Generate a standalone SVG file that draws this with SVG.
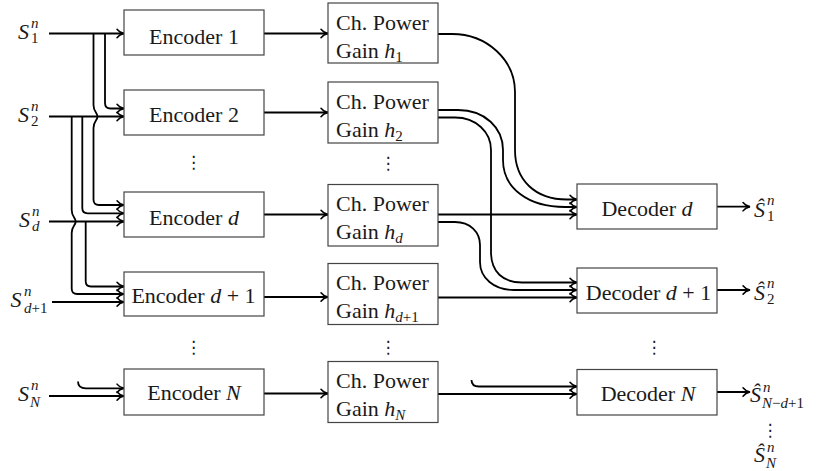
<svg xmlns="http://www.w3.org/2000/svg" width="817" height="471" viewBox="0 0 817 471">
<defs>
<marker id="ar" markerUnits="userSpaceOnUse" markerWidth="12" markerHeight="12" viewBox="-9 -6 12 12" refX="0" refY="0" orient="auto">
<path d="M-7,-4.2 C-5.2,-1.7 -2,-0.4 0,0 C-2,0.4 -5.2,1.7 -7,4.2" fill="none" stroke="#000" stroke-width="1.5" stroke-linecap="round"/>
</marker>
<style>
text{font-family:"Liberation Serif","Times New Roman",serif;font-size:22px;fill:#1a1a1a}
.i{font-style:italic}
.s{font-size:15px}
.c{text-anchor:middle}
.box{fill:#fff;stroke:#444;stroke-width:1.2}
.ln{fill:none;stroke:#000;stroke-width:1.8;marker-end:url(#ar)}
.vd{font-family:"DejaVu Sans",sans-serif;font-size:17px;text-anchor:middle}
</style>
</defs>

<g id="connectors">
<path class="ln" d="M49,33.5 H124"/>
<path class="ln" d="M49,116.5 H124"/>
<path class="ln" d="M49,221.5 H124"/>
<path class="ln" d="M52,302 H124"/>
<path class="ln" d="M49,396 H124"/>
<path class="ln" d="M105,33.5 V103 Q105,108.5 110.5,108.5 H124"/>
<path class="ln" d="M93.5,33.5 V105 C93.5,112 97.5,112.5 97.5,116.5 C97.5,120.5 93.5,121 93.5,128 V199.5 Q93.5,205 99,205 H124"/>
<path class="ln" d="M82.3,116.5 V208 Q82.3,213.3 87.6,213.3 H124"/>
<path class="ln" d="M71.7,116.5 V210 C71.7,217 75.7,217.5 75.7,221.5 C75.7,225.5 71.7,226 71.7,233 V288.5 Q71.7,294 77.2,294 H124"/>
<path class="ln" d="M85.7,221.5 V281.2 Q85.7,286.5 91,286.5 H124"/>
<path class="ln" d="M78,381.5 C78,386 80,388.3 86,388.3 H124"/>
<path class="ln" d="M264,33.5 H328"/>
<path class="ln" d="M264,112.5 H328"/>
<path class="ln" d="M264,214.5 H328"/>
<path class="ln" d="M264,297 H328"/>
<path class="ln" d="M264,393.5 H328"/>
<path class="ln" d="M438,34 H452 C487,34 515,60 515,92 V150 C515,180 535,199.5 567,199.5 H577"/>
<path class="ln" d="M438,110 H458 C485,110 503,128 503,150 V160 C503,188 528,207 565,207 H577"/>
<path class="ln" d="M438,117.5 H455 C476,117.5 491,132 491,150 V252 C491,272 503,282.5 522,282.5 H577"/>
<path class="ln" d="M438,214.5 H577"/>
<path class="ln" d="M438,222 H455 C470,222 480,232 480,245 V262 C480,278 494,290 514,290 H577"/>
<path class="ln" d="M438,297.5 H577"/>
<path class="ln" d="M438,394 H577"/>
<path class="ln" d="M471.5,380 C471.5,384 473.5,386.5 479,386.5 H577"/>
<path class="ln" d="M717,206.7 H750"/>
<path class="ln" d="M717,290 H750"/>
<path class="ln" d="M717,392 H750"/>
</g>

<g id="input-labels">
<text id="s1" x="18" y="38.5"><tspan class="i">S</tspan><tspan class="i s" x="31" y="27.5">n</tspan><tspan class="s" x="31" y="42.5">1</tspan></text>
<text id="s2" x="18" y="121.5"><tspan class="i">S</tspan><tspan class="i s" x="31" y="110.5">n</tspan><tspan class="s" x="31" y="125.5">2</tspan></text>
<text id="sd" x="19" y="226.5"><tspan class="i">S</tspan><tspan class="i s" x="32" y="215.5">n</tspan><tspan class="i s" x="32" y="231">d</tspan></text>
<text id="sd1" x="10.5" y="307"><tspan class="i">S</tspan><tspan class="i s" x="24" y="296">n</tspan><tspan class="s" x="24" y="313"><tspan class="i">d</tspan>+1</tspan></text>
<text id="sN" x="18" y="401"><tspan class="i">S</tspan><tspan class="i s" x="31" y="390">n</tspan><tspan class="i s" x="30" y="406.5">N</tspan></text>
</g>

<g id="enc1"><rect class="box" x="124" y="10" width="140" height="45"/><text class="c" x="194" y="44">Encoder 1</text></g>
<g id="enc2"><rect class="box" x="124" y="90" width="140" height="45"/><text class="c" x="194" y="122">Encoder 2</text></g>
<g id="encd"><rect class="box" x="124" y="192" width="140" height="45"/><text class="c" x="194" y="224.5">Encoder <tspan class="i">d</tspan></text></g>
<g id="encd1"><rect class="box" x="124" y="272" width="140" height="44"/><text class="c" x="193.5" y="302.5">Encoder <tspan class="i">d</tspan> + 1</text></g>
<g id="encN"><rect class="box" x="124" y="369" width="140" height="46"/><text class="c" x="194" y="400">Encoder <tspan class="i">N</tspan></text></g>

<g id="ch1"><rect class="box" x="328" y="3" width="110" height="60"/><text x="336" y="29.5">Ch. Power</text><text x="336" y="58">Gain <tspan class="i">h</tspan><tspan class="s" dy="4">1</tspan></text></g>
<g id="ch2"><rect class="box" x="328" y="82" width="110" height="61"/><text x="336" y="108.5">Ch. Power</text><text x="336" y="137">Gain <tspan class="i">h</tspan><tspan class="s" dy="4">2</tspan></text></g>
<g id="chd"><rect class="box" x="328" y="184.5" width="110" height="61.5"/><text x="336" y="210.5">Ch. Power</text><text x="336" y="238.5">Gain <tspan class="i">h</tspan><tspan class="s i" dy="4">d</tspan></text></g>
<g id="chd1"><rect class="box" x="328" y="263.5" width="110" height="61"/><text x="336" y="289.5">Ch. Power</text><text x="336" y="317.5">Gain <tspan class="i">h</tspan><tspan class="s" dy="4"><tspan class="i">d</tspan>+1</tspan></text></g>
<g id="chN"><rect class="box" x="328" y="361.5" width="110" height="61"/><text x="336" y="387.5">Ch. Power</text><text x="336" y="415.5">Gain <tspan class="i">h</tspan><tspan class="s i" dy="4">N</tspan></text></g>

<g id="decd"><rect class="box" x="577" y="184" width="140" height="45"/><text class="c" x="647" y="216">Decoder <tspan class="i">d</tspan></text></g>
<g id="decd1"><rect class="box" x="577" y="268" width="140" height="45"/><text class="c" x="648.5" y="299.5">Decoder <tspan class="i">d</tspan> + 1</text></g>
<g id="decN"><rect class="box" x="577" y="369.5" width="140" height="45.5"/><text class="c" x="648" y="400.5">Decoder <tspan class="i">N</tspan></text></g>

<g id="output-labels">
<text id="o1" x="754" y="217"><tspan class="i">Ŝ</tspan><tspan class="i s" x="767" y="205">n</tspan><tspan class="s" x="767" y="220.5">1</tspan></text>
<text id="o2" x="754" y="300"><tspan class="i">Ŝ</tspan><tspan class="i s" x="767" y="288">n</tspan><tspan class="s" x="767" y="303.5">2</tspan></text>
<text id="oN1" x="750" y="402"><tspan class="i">Ŝ</tspan><tspan class="i s" x="763" y="391.5">n</tspan><tspan class="s" x="762" y="408"><tspan class="i">N</tspan>−<tspan class="i">d</tspan>+1</tspan></text>
<text id="oN" x="754" y="462"><tspan class="i">Ŝ</tspan><tspan class="i s" x="767" y="452">n</tspan><tspan class="i s" x="766" y="467.5">N</tspan></text>
</g>

<g id="dots">
<text class="vd" x="193.5" y="168">⋮</text>
<text class="vd" x="193.5" y="353">⋮</text>
<text class="vd" x="388" y="168.5">⋮</text>
<text class="vd" x="388" y="352.5">⋮</text>
<text class="vd" x="654" y="352.5">⋮</text>
<text class="vd" x="770" y="436">⋮</text>
</g>
</svg>
